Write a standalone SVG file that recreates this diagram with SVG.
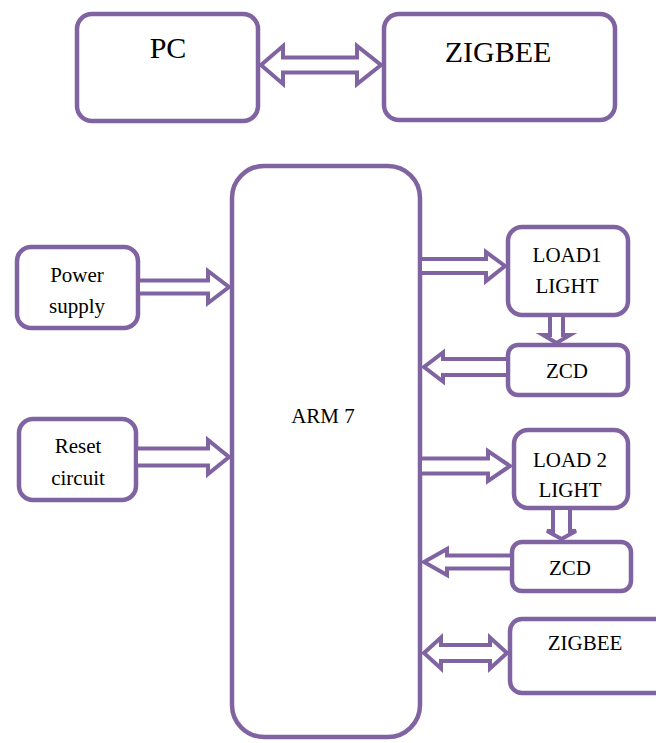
<svg xmlns="http://www.w3.org/2000/svg" width="656" height="743" viewBox="0 0 656 743">
<style>
.box{fill:#fff;stroke:#8064A2;stroke-width:4.5}
.arr{fill:#fff;stroke:#8064A2;stroke-width:4;stroke-linejoin:miter}
.t{font-family:"Liberation Serif","Times New Roman",serif;fill:#000;text-anchor:middle}
.big{font-size:30px}
.sm{font-size:21px}
</style>
<rect width="656" height="743" fill="#fff"/>
<g id="pc"><rect class="box" x="77" y="14" width="181" height="107" rx="15"/><text class="t big" x="168" y="58">PC</text></g>
<g id="zigbee-top"><rect class="box" x="384" y="14" width="231" height="106" rx="15"/><text class="t big" x="498" y="62">ZIGBEE</text></g>
<g id="arm7"><rect class="box" x="232" y="166" width="188" height="571" rx="32"/><text class="t sm" x="323" y="423">ARM 7</text></g>
<g id="power"><rect class="box" x="17" y="247" width="121" height="81" rx="14"/><text class="t sm" x="77" y="282">Power</text><text class="t sm" x="77" y="313">supply</text></g>
<g id="reset"><rect class="box" x="19" y="419" width="117" height="81" rx="14"/><text class="t sm" x="78" y="453">Reset</text><text class="t sm" x="78" y="485">circuit</text></g>
<g id="load1"><rect class="box" x="508" y="227" width="120" height="88" rx="14"/><text class="t sm" x="567" y="262">LOAD1</text><text class="t sm" x="567" y="293">LIGHT</text></g>
<g id="zcd1"><rect class="box" x="508" y="345" width="120" height="50" rx="10"/><text class="t sm" x="567" y="378">ZCD</text></g>
<g id="load2"><rect class="box" x="514" y="430" width="114" height="78" rx="14"/><text class="t sm" x="570" y="467">LOAD 2</text><text class="t sm" x="570" y="497">LIGHT</text></g>
<g id="zcd2"><rect class="box" x="512" y="542" width="119" height="49" rx="10"/><text class="t sm" x="570" y="575">ZCD</text></g>
<g id="zigbee-bottom"><rect class="box" x="510" y="619" width="170" height="74" rx="12"/><text class="t sm" x="585" y="650">ZIGBEE</text></g>
<g id="connectors">
<polygon class="arr" points="261,65 283,46 283,57.5 357,57.5 357,46 381,65 357,84 357,72.5 283,72.5 283,84"/>
<polyline class="arr" points="140,280.5 208,280.5 208,271 229,287 208,303 208,293.5 140,293.5"/>
<polyline class="arr" points="138,448.5 208,448.5 208,440 229,457 208,474 208,465.5 138,465.5"/>
<polyline class="arr" points="422,259 486,259 486,252 505,266 486,281 486,273 422,273"/>
<polyline class="arr" points="506,359 443,359 443,352.5 424,367 443,381.5 443,375 506,375"/>
<polyline class="arr" points="422,458.5 488,458.5 488,451 510,466 488,481 488,473.5 422,473.5"/>
<polyline class="arr" points="510,555.5 447,555.5 447,549 424,562 447,575 447,568.5 510,568.5"/>
<polygon class="arr" points="424,653 441,637.5 441,645 490,645 490,637.5 507,653 490,668.5 490,661 441,661 441,668.5"/>
<polyline class="arr" points="550,317 550,335 543,335 556.5,343 570,335 563,335 563,317"/>
<polyline class="arr" points="553,510 553,531 547,531 561.5,539 576,531 570,531 570,510"/>
</g>
</svg>
